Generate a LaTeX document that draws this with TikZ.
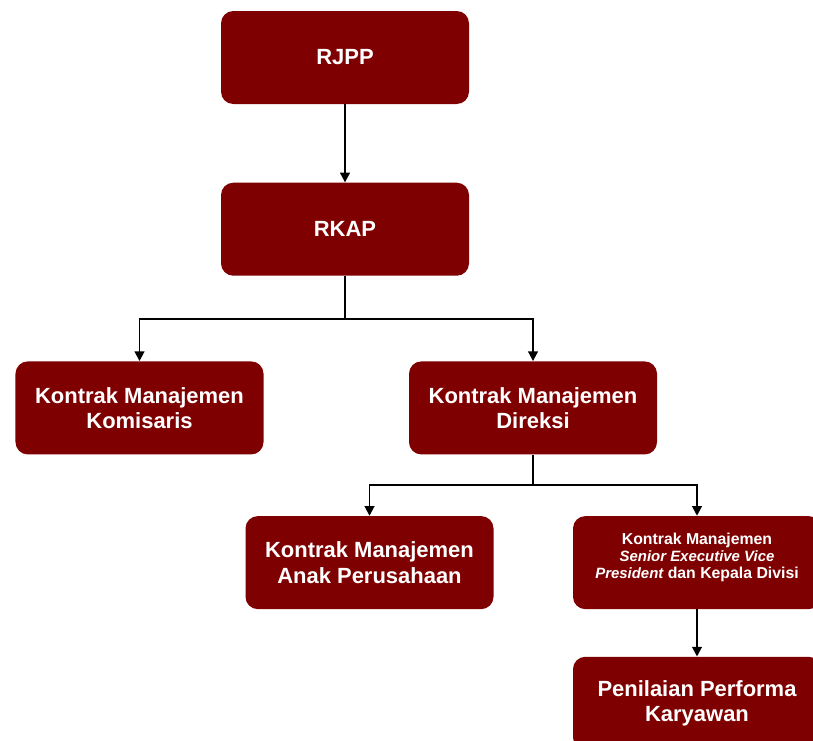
\documentclass[tikz,border=0pt]{standalone}
\usepackage{fontspec}
\setmainfont{Liberation Sans}
\usepackage{tikz}
\usetikzlibrary{arrows.meta,positioning}
\definecolor{pmaroon}{HTML}{7F0000}

\begin{document}
\begin{tikzpicture}[
    kotak/.style={fill=pmaroon,rounded corners=7pt,text=white,align=center,
      font=\bfseries\fontsize{12.5}{14.5}\selectfont,
      minimum width=4.96cm,minimum height=1.86cm,inner sep=4pt},
    panah/.style={-{Triangle[length=5.5pt,width=5.5pt]},line width=1.1pt}]
  \useasboundingbox (0,0) rectangle (16.26,-14.8);
  \node[kotak] (rjpp) at (6.9,-1.15) {RJPP};
  \node[kotak,below=1.56cm of rjpp] (rkap) {RKAP};
  \node[kotak,below=1.7cm of rkap,xshift=-4.11cm] (kom) {Kontrak Manajemen\\Komisaris};
  \node[kotak,below=1.7cm of rkap,xshift=3.76cm] (dir) {Kontrak Manajemen\\Direksi};
  \node[kotak,below=1.22cm of dir,xshift=-3.27cm] (anak) {Kontrak Manajemen\\Anak Perusahaan};
  \node[kotak,below=1.22cm of dir,xshift=3.28cm,text depth=8pt,
        font=\bfseries\fontsize{9}{9.7}\selectfont] (sevp) {Kontrak Manajemen\\
        {\fontsize{8.5}{9.7}\selectfont\itshape Senior Executive Vice}\\
        {\fontsize{8.5}{9.7}\selectfont\itshape President} dan Kepala Divisi};
  \node[kotak,below=0.94cm of sevp] (nilai) {Penilaian Performa\\Karyawan};
  % panah
  \draw[panah] (rjpp) -- (rkap);
  \draw[panah] (rkap.south) -- ++(0,-0.86) -| (kom.north);
  \draw[panah] (rkap.south) -- ++(0,-0.86) -| (dir.north);
  \draw[panah] (dir.south) -- ++(0,-0.6) -| (anak.north);
  \draw[panah] (dir.south) -- ++(0,-0.6) -| (sevp.north);
  \draw[panah] (sevp) -- (nilai);
\end{tikzpicture}
\end{document}
